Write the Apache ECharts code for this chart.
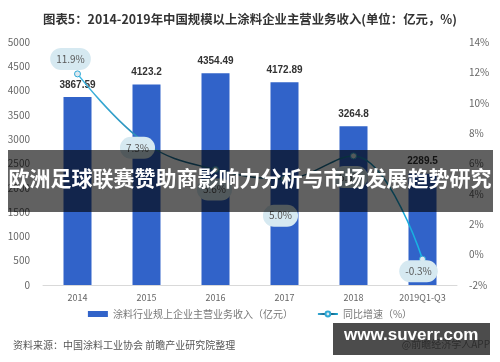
<!DOCTYPE html>
<html>
<head>
<meta charset="utf-8">
<script src="https://cdn.jsdelivr.net/npm/echarts@6/dist/echarts.min.js"></script>
<style>
html,body{margin:0;padding:0;background:#fff;}
#chart{width:500px;height:362px;}
</style>
</head>
<body>
<div id="chart"></div>
<script>
var categories = ['2014', '2015', '2016', '2017', '2018', '2019Q1-Q3'];
var revenue = [3867.59, 4123.2, 4354.49, 4172.89, 3264.8, 2289.5];
var growth = [11.9, 7.3, 5.6, 5.0, 6.5, -0.3];
var leftTicks = [0, 5000, 500];
var rightTicks = [-2, 14, 2];
var titleText = '图表5：2014-2019年中国规模以上涂料企业主营业务收入(单位：亿元，%)';
var barName = '涂料行业规上企业主营业务收入（亿元）';
var lineName = '同比增速（%）';
var sourceText = '资料来源：中国涂料工业协会 前瞻产业研究院整理';
var creditText = '@前瞻经济学人APP';
var bannerText = '欧洲足球联赛赞助商影响力分析与市场发展趋势研究';
var siteText = 'www.suverr.com';

var labelOffsets = [[-7,-15],[-9,4],[-1,20],[-4,37],[-3,21],[-4,12]];

var chart = echarts.init(document.getElementById('chart'), null, {renderer:'canvas'});
var FONT = '"Noto Sans CJK SC", "Liberation Sans", sans-serif';

var lineData = growth.map(function(v, i){
  return {
    value: v,
    label: { offset: labelOffsets[i] }
  };
});

var option = {
  animation: false,
  textStyle: { fontFamily: FONT },
  title: {
    text: titleText,
    left: 'center',
    top: 8,
    textStyle: { fontSize: 12.4, fontWeight: 'bold', color: '#333', fontFamily: FONT }
  },
  grid: { left: 43, right: 43, top: 42, bottom: 77 },
  legend: {
    bottom: 38,
    left: 'center',
    itemGap: 24,
    itemWidth: 20,
    itemHeight: 6,
    textStyle: { fontSize: 10, color: '#777', fontFamily: FONT },
    data: [
      { name: barName, icon: 'rect' },
      { name: lineName }
    ]
  },
  xAxis: {
    type: 'category',
    data: categories,
    axisLine: { lineStyle: { color: '#d9d9d9' } },
    axisTick: { show: false },
    axisLabel: { color: '#666', fontSize: 9, margin: 8 }
  },
  yAxis: [
    {
      type: 'value',
      min: leftTicks[0], max: leftTicks[1], interval: leftTicks[2],
      axisLine: { show: false }, axisTick: { show: false },
      splitLine: { show: false },
      axisLabel: { color: '#666', fontSize: 10, margin: 13, formatter: function(v){ return String(v); } }
    },
    {
      type: 'value',
      min: rightTicks[0], max: rightTicks[1], interval: rightTicks[2],
      axisLine: { show: false }, axisTick: { show: false },
      splitLine: { show: false },
      axisLabel: { color: '#666', fontSize: 10, margin: 12, formatter: '{value}%' }
    }
  ],
  series: [
    {
      name: barName,
      type: 'bar',
      data: revenue,
      barWidth: 28,
      itemStyle: { color: '#3163c9' },
      label: {
        show: true, position: 'top', distance: 7,
        color: '#333', fontSize: 10, fontWeight: 'bold', fontFamily: 'Liberation Sans, sans-serif'
      }
    },
    {
      name: lineName,
      type: 'line',
      yAxisIndex: 1,
      smooth: 0.4,
      data: lineData,
      symbol: 'circle',
      symbolSize: 6,
      itemStyle: { color: '#dfe9ef', borderColor: '#2fa9d6', borderWidth: 1 },
      lineStyle: {
        width: 1.5,
        color: new echarts.graphic.LinearGradient(0, 0, 1, 0, [
          { offset: 0, color: '#3dbbe8' },
          { offset: 0.3, color: '#1f6f95' },
          { offset: 0.65, color: '#1a5c7b' },
          { offset: 1, color: '#18b9ea' }
        ])
      },
      label: {
        show: true,
        position: 'inside',
        formatter: function(p){ return p.value.toFixed(1) + '%'; },
        color: '#595959',
        fontSize: 10,
        backgroundColor: '#d6e9f1',
        padding: [6, 6],
        borderRadius: 12
      },
      z: 3
    }
  ],
  graphic: [
    {
      type: 'text', left: 13, top: 340,
      style: { text: sourceText, fill: '#555', font: '10px ' + FONT }
    },
    {
      type: 'text', right: 10, top: 339,
      style: { text: creditText, fill: '#999', font: '10px ' + FONT }
    },
    {
      type: 'rect', left: 8, top: 150, z: 100,
      shape: { width: 485, height: 62 },
      style: { fill: 'rgba(0,0,0,0.62)' }
    },
    {
      type: 'text', z: 101, left: 'center', top: 168,
      style: { text: bannerText, fill: '#fff', font: 'bold 21px ' + FONT }
    },
    {
      type: 'rect', left: 333, top: 323, z: 100,
      shape: { width: 157, height: 32 },
      style: { fill: 'rgba(0,0,0,0.7)' }
    },
    {
      type: 'text', z: 101, left: 344, top: 327,
      style: { text: siteText, fill: '#fff', font: 'bold 17px "Liberation Sans", sans-serif' }
    }
  ]
};
chart.setOption(option);
</script>
</body>
</html>
